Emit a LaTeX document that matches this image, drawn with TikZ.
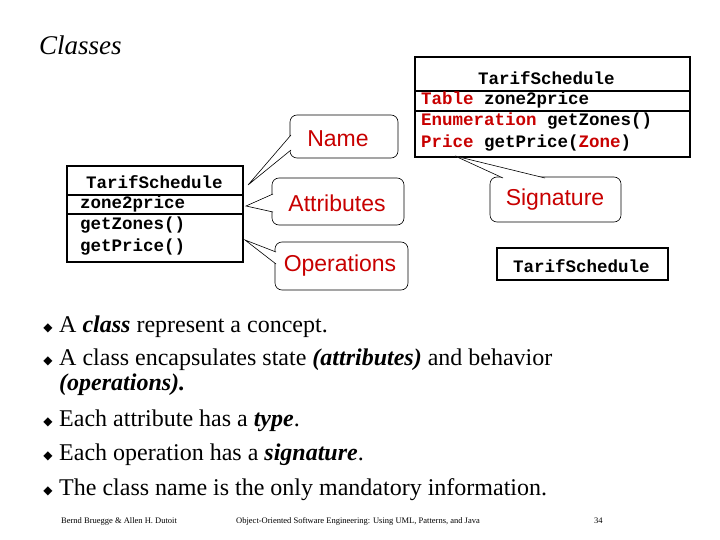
\documentclass[tikz,border=0pt]{standalone}
\usepackage{fontspec}
\setmainfont{Liberation Serif}
\newfontfamily\calfont{Liberation Sans}
\newfontfamily\codefont{Liberation Mono}
\newfontfamily\symfont{DejaVu Sans}
\definecolor{kw}{RGB}{200,0,0}
\begin{document}
\begin{tikzpicture}[x=1pt,y=-1pt,
  cls/.style={draw,line width=1.6pt},
  call/.style={draw,line width=0.6pt,rounded corners=7pt,fill=white},
  ptr/.style={draw,line width=0.6pt,fill=white},
  code/.style={font=\codefont\bfseries\fontsize{17.5}{19}\selectfont,anchor=west,inner sep=0},
  clab/.style={font=\calfont\fontsize{23}{26}\selectfont,text=kw},
  bul/.style={font=\fontsize{24}{27}\selectfont,anchor=west,inner sep=0},
  dia/.style={font=\symfont\fontsize{12}{14}\selectfont,inner sep=0}]
\useasboundingbox (0,0) rectangle (720,540);
\node[font=\itshape\fontsize{27}{30}\selectfont,anchor=west,inner sep=0] (title) at (39,45) {Classes};
% left class
\draw[cls] (67,166) rectangle (243,262);
\draw[cls] (67,195) -- (243,195);
\draw[cls] (67,214) -- (243,214);
\node[code] (ln) at (86,182) {TarifSchedule};
\node[code] (la) at (80,204) {zone2price};
\node[code] (lo1) at (80,225) {getZones()};
\node[code] (lo2) at (80,247) {getPrice()};
% right class
\draw[cls] (415,57) rectangle (690,157);
\draw[cls] (415,91) -- (690,91);
\draw[cls] (415,111) -- (690,111);
\node[code] (rn) at (478,78) {TarifSchedule};
\node[code] (ra) at (421,100) {\textcolor{kw}{Table} zone2price};
\node[code] (ro1) at (421,121) {\textcolor{kw}{Enumeration} getZones()};
\node[code] (ro2) at (421,143) {\textcolor{kw}{Price} getPrice(\textcolor{kw}{Zone})};
% small class
\draw[cls] (497,248) rectangle (668,280);
\node[code] (sn) at (513,266) {TarifSchedule};
% callouts
\draw[call] (290,115) rectangle (398,158);
\node[clab] (cn) at (338,139) {Name};
\draw[call] (272,178) rectangle (404,225);
\node[clab] (ca) at (337,203) {Attributes};
\draw[call] (275,242) rectangle (408,290);
\node[clab] (co) at (340,266) {Operations};
\draw[call] (490,177) rectangle (621,222);
\node[clab] (cs) at (555,200) {Signature};
% pointers
\coordinate (tn) at (248,185);
\coordinate (ta) at (246,206);
\coordinate (to) at (245,240);
\coordinate (ts) at (455,156);
\path[ptr] (291,135) -- (tn) -- (291,150);
\path[ptr] (273,194) -- (ta) -- (273,212);
\path[ptr] (276,252) -- (to) -- (276,264);
\path[ptr] (503,178) -- (ts) -- (545,178);
% bullets
\foreach \y/\t in {327/{A \textbf{\textit{class}} represent a concept.},
  360/{A class encapsulates state \textbf{\textit{(attributes)}} and behavior},
  421/{Each attribute has a \textbf{\textit{type}}.},
  455/{Each operation has a \textbf{\textit{signature}}.},
  490/{The class name is the only mandatory information.}}{
  \node[dia] at (48,\y+1) {◆};
  \node[bul] at (59,\y) {\t};
}
\node[bul] (cont) at (59,385) {\textbf{\textit{(operations).}}};
% footer
\node[font=\fontsize{8.5}{9}\selectfont,anchor=west,inner sep=0] (f1) at (61,521) {Bernd Bruegge \& Allen H. Dutoit};
\node[font=\fontsize{8.5}{9}\selectfont,anchor=west,inner sep=0] (f2) at (236,521) {Object-Oriented Software Engineering: Using UML, Patterns, and Java};
\node[font=\fontsize{8.5}{9}\selectfont,anchor=west,inner sep=0] (f3) at (594,521) {34};
\end{tikzpicture}
\end{document}
